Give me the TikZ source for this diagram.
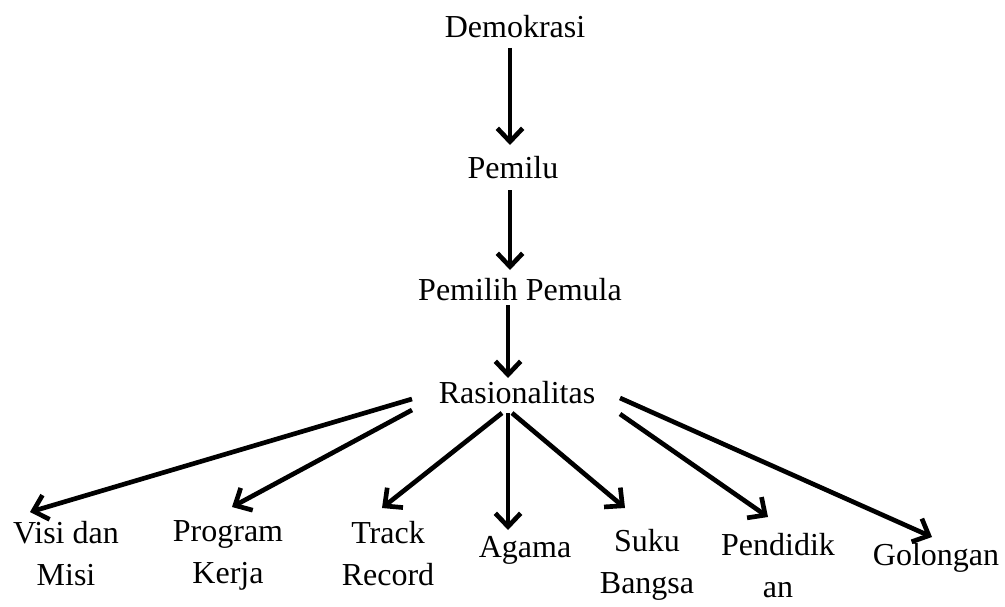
\documentclass[tikz,border=0pt]{standalone}
\usepackage{fontspec}
\setmainfont{Liberation Serif}
\usetikzlibrary{arrows.meta}

\begin{document}
\begin{tikzpicture}[x=0.75pt, y=-0.75pt,
    konsep/.style={font=\fontsize{24}{31}\selectfont, inner sep=0pt, anchor=base, align=center},
    panah/.style={line width=3.5pt, -{Straight Barb[length=10pt, width=19pt]}}]
  \useasboundingbox[fill=white] (0,0) rectangle (1005,606);

  % Main chain
  \node[konsep] (demokrasi) at (515,38) {Demokrasi};
  \node[konsep] (pemilu) at (513,178) {Pemilu};
  \node[konsep] (pemula) at (520,300) {Pemilih Pemula};
  \node[konsep] (rasional) at (517,403) {Rasionalitas};

  % Factors of rationality
  \node[konsep] (visi) at (66,585) {Visi dan\\Misi};
  \node[konsep] (program) at (228,583) {Program\\Kerja};
  \node[konsep] (track) at (388,585) {Track\\Record};
  \node[konsep] (agama) at (525,557) {Agama};
  \node[konsep] (suku) at (647,593) {Suku\\Bangsa};
  \node[konsep] (pendidikan) at (778,597) {Pendidik\\an};
  \node[konsep] (golongan) at (936,565) {Golongan};

  % Arrows down the chain
  \draw[panah] ([shift={(-5,10)}]demokrasi.base) -- ([shift={(-3,-33)}]pemilu.base);
  \draw[panah] ([shift={(-3,12)}]pemilu.base) -- ([shift={(-10,-30)}]pemula.base);
  \draw[panah] ([shift={(-12,5)}]pemula.base) -- ([shift={(-9,-25)}]rasional.base);

  % Arrows to the factors
  \draw[panah] ([shift={(-105,-4)}]rasional.base) -- ([shift={(-36,-73)}]visi.base);
  \draw[panah] ([shift={(-105,7)}]rasional.base) -- ([shift={(4,-76)}]program.base);
  \draw[panah] ([shift={(-15,10)}]rasional.base) -- ([shift={(-6,-77)}]track.base);
  \draw[panah] ([shift={(-9,10)}]rasional.base) -- ([shift={(-17,-27)}]agama.base);
  \draw[panah] ([shift={(-5,10)}]rasional.base) -- ([shift={(-22,-85)}]suku.base);
  \draw[panah] ([shift={(103,11)}]rasional.base) -- ([shift={(-10,-80)}]pendidikan.base);
  \draw[panah] ([shift={(103,-5)}]rasional.base) -- ([shift={(-4,-28)}]golongan.base);
\end{tikzpicture}
\end{document}
